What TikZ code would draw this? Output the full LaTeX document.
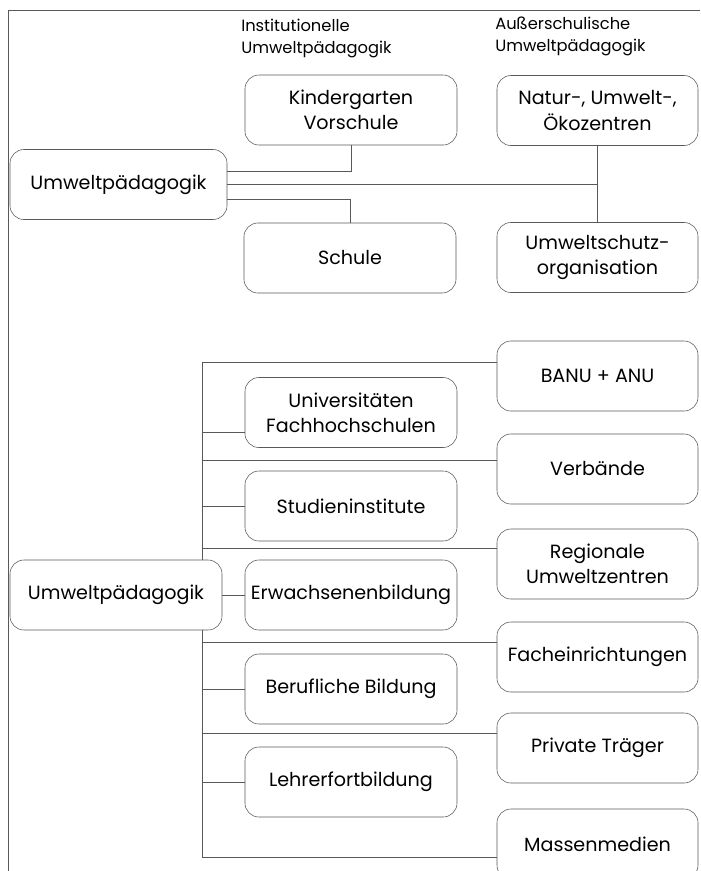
\documentclass[tikz,border=0pt]{standalone}
\usepackage{fontspec}
\setmainfont{Poppins}
\begin{document}
\begin{tikzpicture}[x=0.025cm, y=-0.025cm,
  box/.style={draw=black!65, rounded corners=0.35cm, align=center, minimum height=1.75cm, inner sep=2pt, font=\fontsize{13.6}{17.8}\selectfont},
  lbox/.style={box, minimum width=5.3cm},
  rbox/.style={box, minimum width=5.025cm},
  link/.style={draw=black!65, line width=0.6pt},
  head/.style={anchor=north west, align=left, inner sep=0pt, font=\fontsize{11.6}{15.6}\selectfont}]
  \useasboundingbox (0,0) rectangle (700,871);
  \draw[link] (700,10) -- (8,10) -- (8,871);

  % oberer Teil
  \node[head] (inst) at (241,19) {Institutionelle\\Umweltpädagogik};
  \node[head] (ausser) at (495,17) {Außerschulische\\Umweltpädagogik};
  \node[box, minimum width=5.425cm] (upaed) at (118.5,184.5) {Umweltpädagogik};
  \node[lbox] (kinder) at (351,110) {Kindergarten\\Vorschule};
  \node[lbox] (schule) at (350,258) {Schule};
  \node[rbox] (natur) at (597.5,110.5) {Natur-, Umwelt-,\\Ökozentren};
  \node[rbox] (schutz) at (597.5,257.5) {Umweltschutz-\\organisation};
  \draw[link] (upaed.east |- 0,171) -| (kinder.south);
  \draw[link] (upaed.east |- 0,199) -| (schule.north);
  \draw[link] (upaed.east) -- (upaed.east -| natur.south);
  \draw[link] (natur.south) -- (schutz.north);

  % unterer Teil
  \node[box, minimum width=5.3cm] (upaed2) at (116,595) {Umweltpädagogik};
  \node[lbox] (uni) at (351,412.5) {Universitäten\\Fachhochschulen};
  \node[lbox] (studien) at (351,506) {Studieninstitute};
  \node[lbox] (erw) at (351,595) {Erwachsenenbildung};
  \node[lbox] (beruf) at (351,689) {Berufliche Bildung};
  \node[lbox] (lehrer) at (351,782) {Lehrerfortbildung};
  \node[rbox] (banu) at (597.5,376) {BANU + ANU};
  \node[rbox] (verb) at (597.5,469) {Verbände};
  \node[rbox] (region) at (597.5,564) {Regionale\\Umweltzentren};
  \node[rbox] (fach) at (597.5,657) {Facheinrichtungen};
  \node[rbox] (privat) at (597.5,748) {Private Träger};
  \node[rbox] (medien) at (597.5,844) {Massenmedien};

  \coordinate (top) at (202,362);
  \coordinate (bot) at (202,857);
  \coordinate (k1) at (202,432);
  \coordinate (j1) at (202,460);
  \coordinate (j2) at (202,548);
  \coordinate (j3) at (202,642);
  \coordinate (j4) at (202,733);
  \draw[link] (banu.west |- top) -- (top) -- (upaed2.north -| top);
  \draw[link] (upaed2.south -| top) -- (bot) -- (medien.west |- bot);
  \draw[link] (j1) -- (verb.west |- j1);
  \draw[link] (j2) -- (region.west |- j2);
  \draw[link] (j3) -- (fach.west |- j3);
  \draw[link] (j4) -- (privat.west |- j4);
  \draw[link] (k1) -- (uni.west |- k1);
  \draw[link] (studien.west) -- (studien.west -| top);
  \draw[link] (upaed2.east) -- (erw.west);
  \draw[link] (beruf.west) -- (beruf.west -| top);
  \draw[link] (lehrer.west) -- (lehrer.west -| top);
\end{tikzpicture}
\end{document}
